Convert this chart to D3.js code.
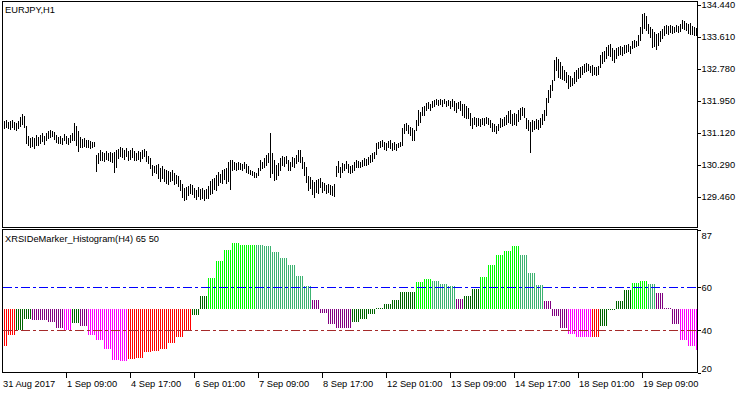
<!DOCTYPE html>
<html>
<head>
<meta charset="utf-8">
<script src="https://cdn.jsdelivr.net/npm/d3@7/dist/d3.min.js"></script>
<style>
  body { margin: 0; background: #fff; }
  svg { display: block; }
  text { font-family: "Liberation Sans", Arial, sans-serif; font-size: 9.3px; fill: #000; }
</style>
</head>
<body>
<div id="chart"></div>
<script>
// EURJPY H1 bars, 31 Aug 2017 00:00 .. 19 Sep 2017 12:00 (weekends skipped)
const highs = [
  // 31 Aug, 1 Sep
  131.45,131.47,131.42,131.45,131.40,131.42,131.45,131.40,131.37,131.42,131.53,131.60,131.55,131.29,131.03,130.98,
  131.01,130.98,131.06,131.01,131.06,131.11,131.03,131.11,131.16,131.19,131.16,131.14,131.06,131.01,131.03,130.98,
  131.09,131.03,130.98,131.06,131.11,131.37,131.29,131.16,131.01,130.96,130.98,130.93,130.93,130.90,130.88,130.88,
  // 4 Sep ..
  130.54,130.59,130.67,130.62,130.59,130.65,130.59,130.62,130.59,130.62,130.67,130.70,130.75,130.72,130.67,130.72,
  130.65,130.67,130.72,130.65,130.59,130.65,130.62,130.67,130.70,130.65,130.52,130.46,130.28,130.26,130.28,130.31,
  130.21,130.26,130.18,130.15,
  130.13,130.10,130.15,130.08,130.02,130.00,129.89,129.79,129.69,129.71,129.74,129.79,129.76,129.69,129.63,129.71,
  129.66,129.69,129.63,129.66,129.74,129.87,129.92,129.95,130.02,130.10,130.05,130.15,130.18,130.21,130.36,130.41,
  130.41,130.36,130.33,130.36,130.33,130.31,130.36,130.31,130.26,
  130.15,130.13,130.10,130.08,130.21,130.41,130.36,130.46,130.54,130.59,131.11,130.59,130.41,130.28,130.33,130.46,
  130.52,130.49,130.52,130.41,130.36,130.49,130.46,130.54,130.67,130.67,130.49,130.36,130.23,130.00,129.97,129.89,
  129.84,129.89,129.92,129.95,129.84,129.82,129.76,129.79,129.76,129.74,129.79,
  // 11 Sep ..
  130.26,130.39,130.23,130.33,130.31,130.39,130.31,130.26,130.28,130.36,
  130.41,130.39,130.36,130.41,130.46,130.44,130.49,130.54,130.59,130.62,
  130.85,130.88,130.90,130.93,130.88,130.85,130.90,130.93,130.85,130.88,
  130.83,130.85,130.88,131.24,131.34,131.37,131.32,131.27,131.24,131.19,
  131.45,131.71,131.65,131.78,131.81,131.89,131.92,131.86,131.94,131.97,
  131.99,131.97,131.99,131.97,131.99,131.94,131.97,131.94,131.99,131.94,
  131.89,131.92,131.94,131.86,131.86,131.81,131.76,131.63,131.50,131.53,
  131.50,131.50,131.47,131.50,131.50,131.53,131.50,131.45,131.37,131.34,131.29,131.34,
  131.50,131.47,131.53,131.58,131.68,131.71,131.60,131.63,131.60,131.71,
  131.76,131.78,131.76,131.50,131.45,131.40,131.45,131.42,131.47,131.45,
  131.50,131.60,131.71,132.02,132.23,132.35,132.48,133.00,133.08,133.03,
  132.95,132.85,132.74,132.69,132.61,132.59,132.54,132.69,132.74,132.80,
  132.82,132.85,132.90,132.93,132.90,132.85,132.87,132.82,132.82,132.85,
  133.13,133.21,133.24,133.34,133.39,133.42,133.31,133.26,133.31,133.34,
  133.36,133.34,133.39,133.39,133.42,133.36,133.49,133.52,133.49,133.65,
  133.86,134.19,134.22,134.14,133.93,133.86,133.80,133.73,133.68,133.70,
  133.75,133.80,133.88,133.91,133.88,133.91,133.88,133.86,133.91,133.88,
  133.93,134.04,134.01,133.96,133.93,133.96,133.88,133.86,133.83
];
const lows = [
  131.27,131.29,131.24,131.27,131.24,131.21,131.27,131.21,131.19,131.24,131.29,131.34,131.27,130.85,130.80,130.75,
  130.77,130.72,130.80,130.80,130.85,130.90,130.83,130.93,130.98,131.01,131.03,130.96,130.88,130.85,130.85,130.83,
  130.93,130.85,130.83,130.88,130.93,130.93,130.80,130.65,130.75,130.75,130.77,130.75,130.75,130.72,130.75,130.77,
  130.13,130.33,130.41,130.41,130.39,130.44,130.41,130.39,130.36,130.10,130.23,130.46,130.52,130.49,130.44,130.52,
  130.41,130.44,130.49,130.41,130.41,130.44,130.39,130.46,130.52,130.39,130.33,130.21,130.02,130.10,130.08,129.95,
  129.87,129.95,129.87,129.82,
  129.79,129.87,129.89,129.79,129.82,129.74,129.63,129.45,129.38,129.40,129.51,129.56,129.53,129.45,129.40,129.48,
  129.40,129.43,129.38,129.43,129.43,129.53,129.56,129.66,129.63,129.76,129.84,129.82,129.92,129.82,129.87,129.66,
  130.15,130.18,130.15,130.18,130.18,130.15,130.21,130.10,130.08,
  130.05,130.02,129.97,129.97,130.02,130.15,130.21,130.23,130.28,130.36,129.97,130.08,129.89,129.92,130.02,130.15,
  130.28,130.26,130.33,130.15,130.15,130.26,130.23,130.33,130.39,130.36,130.21,130.02,129.84,129.63,129.69,129.53,
  129.45,129.58,129.56,129.71,129.58,129.63,129.56,129.58,129.53,129.51,129.48,
  130.00,130.10,129.97,130.10,130.15,130.21,130.10,130.08,130.10,130.15,
  130.23,130.23,130.23,130.26,130.28,130.28,130.31,130.36,130.39,130.46,
  130.57,130.72,130.75,130.77,130.70,130.67,130.75,130.72,130.67,130.70,
  130.67,130.75,130.77,130.80,131.11,131.19,131.11,131.06,130.93,130.93,
  131.19,131.32,131.40,131.58,131.58,131.71,131.76,131.71,131.78,131.81,
  131.86,131.84,131.86,131.81,131.89,131.81,131.84,131.76,131.81,131.71,
  131.65,131.76,131.71,131.58,131.53,131.50,131.50,131.32,131.24,131.34,
  131.29,131.32,131.29,131.34,131.32,131.37,131.34,131.27,131.16,131.16,131.11,131.19,
  131.27,131.29,131.32,131.34,131.40,131.37,131.32,131.34,131.32,131.42,
  131.47,131.58,131.53,131.24,131.19,130.62,131.16,131.21,131.24,131.21,
  131.27,131.34,131.45,131.58,131.92,132.04,132.23,132.48,132.74,132.56,
  132.54,132.51,132.48,132.43,132.28,132.33,132.35,132.41,132.46,132.54,
  132.56,132.64,132.69,132.72,132.74,132.69,132.61,132.64,132.61,132.64,
  132.82,132.93,132.98,133.05,133.13,133.11,133.00,132.95,133.05,133.13,
  133.16,133.13,133.18,133.21,133.24,133.18,133.31,133.34,133.36,133.39,
  133.52,133.70,133.83,133.78,133.70,133.60,133.34,133.36,133.29,133.39,
  133.49,133.57,133.65,133.70,133.68,133.73,133.70,133.73,133.75,133.73,
  133.75,133.83,133.80,133.78,133.70,133.68,133.68,133.65,133.65
];

// XRSIDeMarker_Histogram on H4: one value per 4 H1 bars
const histValues = [
  32.7,37.8,40.0,45.3,44.9,44.8,43.6,41.0,40.0,43.5,
  42.0,37.6,35.6,31.3,26.3,25.7,26.6,27.2,30.0,30.3,
  31.3,34.1,36.9,40.0,47.1,56.0,64.4,72.3,77.5,80.7,
  79.8,79.8,79.8,79.3,76.5,73.6,70.4,65.3,60.6,54.1,
  48.2,42.9,41.2,41.2,44.0,45.2,47.7,50.3,52.2,54.1,
  57.8,57.8,62.5,63.9,63.0,61.7,60.8,54.6,56.0,59.2,
  64.8,70.4,75.1,77.0,79.3,75.1,66.7,60.9,53.6,46.5,
  41.0,38.0,36.6,36.6,37.0,42.1,49.2,53.6,58.8,61.9,
  63.0,61.4,57.4,50.3,42.7,35.6,32.8,30.6
];
const histStates = [
  "R","R","G","G","P","P","P","P","M","G",
  "P","M","M","M","M","M","R","R","R","R",
  "R","R","R","R","G","G","L","L","L","L",
  "L","L","S","S","S","S","S","S","S","P",
  "P","P","P","P","G","G","G","G","G","G",
  "G","G","L","L","S","S","S","P","G","G",
  "L","L","L","L","L","S","S","S","P","P",
  "P","M","M","M","R","G","G","G","G","L",
  "L","S","P","P","P","M","M","M"
];
const stateColors = {R: "#ff0000", M: "#ff00ff", P: "#800080", G: "#006400", L: "#00ff00", S: "#3cb371"};

const priceTicks = [134.44, 133.61, 132.78, 131.95, 131.12, 130.29, 129.46];
const histTicks = [87, 60, 40, 20];
const levelValues = [60, 40];
const levelColors = ["#0000ff", "#a52a2a"];
const timeTickBars = [0, 33, 65, 97, 129, 161, 193, 225, 257, 289, 321];
const timeTickLabels = ["31 Aug 2017", "1 Sep 09:00", "4 Sep 17:00", "6 Sep 01:00", "7 Sep 09:00",
  "8 Sep 17:00", "12 Sep 01:00", "13 Sep 09:00", "14 Sep 17:00", "18 Sep 01:00", "19 Sep 09:00"];

// layout
const width = 750, height = 394;
const left = 2.5, right = 697.5;
const priceTop = 1.5, priceBottom = 227.5;
const histTop = 229.5, histBottom = 372.5;

const svg = d3.select("#chart").append("svg")
  .attr("width", width).attr("height", height);

const x = d3.scaleLinear().domain([0, highs.length - 1]).range([0, 2 * (highs.length - 1)]);
const yPrice = d3.scaleLinear().domain([129.46, 134.44]).range([196.7, 4.5]);
const yHist = d3.scaleLinear().domain([20, 87]).range([373, 229.5]);

const defs = svg.append("defs");
defs.append("clipPath").attr("id", "clipPrice").append("rect")
  .attr("x", left + 0.5).attr("y", priceTop + 0.5)
  .attr("width", right - left - 1).attr("height", priceBottom - priceTop - 1);
defs.append("clipPath").attr("id", "clipHist").append("rect")
  .attr("x", left + 0.5).attr("y", histTop + 0.5)
  .attr("width", right - left - 1).attr("height", histBottom - histTop - 1);

// price bars
svg.append("g").attr("clip-path", "url(#clipPrice)")
  .selectAll("line").data(highs).enter().append("line")
    .attr("x1", (d, i) => x(i) + 0.5).attr("x2", (d, i) => x(i) + 0.5)
    .attr("y1", d => yPrice(d))
    .attr("y2", (d, i) => yPrice(lows[i]) + 1)
    .attr("stroke", "#000").attr("stroke-width", 1)
    .attr("shape-rendering", "crispEdges");

// histogram: every H1 bar takes the value of its H4 bar
const histBars = highs.map((d, i) => ({i: i, v: histValues[Math.floor(i / 4)], s: histStates[Math.floor(i / 4)]}));
svg.append("g").attr("clip-path", "url(#clipHist)")
  .selectAll("rect").data(histBars).enter().append("rect")
    .attr("x", d => x(d.i))
    .attr("width", 1)
    .attr("y", d => Math.min(yHist(d.v), yHist(50)))
    .attr("height", d => Math.max(1, Math.abs(yHist(d.v) - yHist(50))))
    .attr("fill", d => stateColors[d.s])
    .attr("shape-rendering", "crispEdges");

// levels
svg.append("g").selectAll("line").data(levelValues).enter().append("line")
  .attr("x1", left + 0.5).attr("x2", right - 0.5)
  .attr("y1", d => Math.floor(yHist(d)) + 0.5).attr("y2", d => Math.floor(yHist(d)) + 0.5)
  .attr("stroke", (d, i) => levelColors[i])
  .attr("stroke-dasharray", "9,3,3,3")
  .attr("shape-rendering", "crispEdges");

// frames
svg.append("rect").attr("x", left).attr("y", priceTop)
  .attr("width", right - left).attr("height", priceBottom - priceTop)
  .attr("fill", "none").attr("stroke", "#000").attr("shape-rendering", "crispEdges");
svg.append("rect").attr("x", left).attr("y", histTop)
  .attr("width", right - left).attr("height", histBottom - histTop)
  .attr("fill", "none").attr("stroke", "#000").attr("shape-rendering", "crispEdges");

// price axis
const priceAxis = svg.append("g").attr("transform", "translate(" + right + ",0)")
  .call(d3.axisRight(yPrice).tickValues(priceTicks).tickFormat(d3.format(".3f")).tickSize(3).tickPadding(1));
priceAxis.select(".domain").remove();

// histogram axis, labels kept inside the panel
const histAxis = svg.append("g").attr("transform", "translate(" + right + ",0)")
  .call(d3.axisRight(yHist).tickValues(histTicks).tickFormat(d3.format("d")).tickSize(3).tickPadding(1));
histAxis.select(".domain").remove();
histAxis.selectAll(".tick text")
  .attr("y", d => Math.max(histTop + 6.5, Math.min(histBottom - 4, yHist(d))) - yHist(d));

// time axis
const timeAxis = svg.append("g").attr("transform", "translate(0," + histBottom + ")")
  .call(d3.axisBottom(x).tickValues(timeTickBars)
    .tickFormat((d, i) => timeTickLabels[i]).tickSize(5).tickPadding(3));
timeAxis.select(".domain").remove();
timeAxis.selectAll(".tick").attr("transform", d => "translate(" + (x(d) + 0.5) + ",0)");
timeAxis.selectAll(".tick text").attr("text-anchor", "start").attr("x", d => d === 0 ? 2.5 : 0.5);
timeAxis.selectAll(".tick line").filter(d => d === 0).remove();

svg.selectAll(".tick line").attr("stroke", "#000").attr("shape-rendering", "crispEdges");
svg.selectAll(".tick text").attr("fill", "#000")
  .style("font-family", "'Liberation Sans', Arial, sans-serif").style("font-size", "9.3px");

// panel titles
svg.append("text").attr("x", 5).attr("y", 12.7).text("EURJPY,H1");
svg.append("text").attr("x", 5).attr("y", 242.3).text("XRSIDeMarker_Histogram(H4) 65 50");
</script>
</body>
</html>
